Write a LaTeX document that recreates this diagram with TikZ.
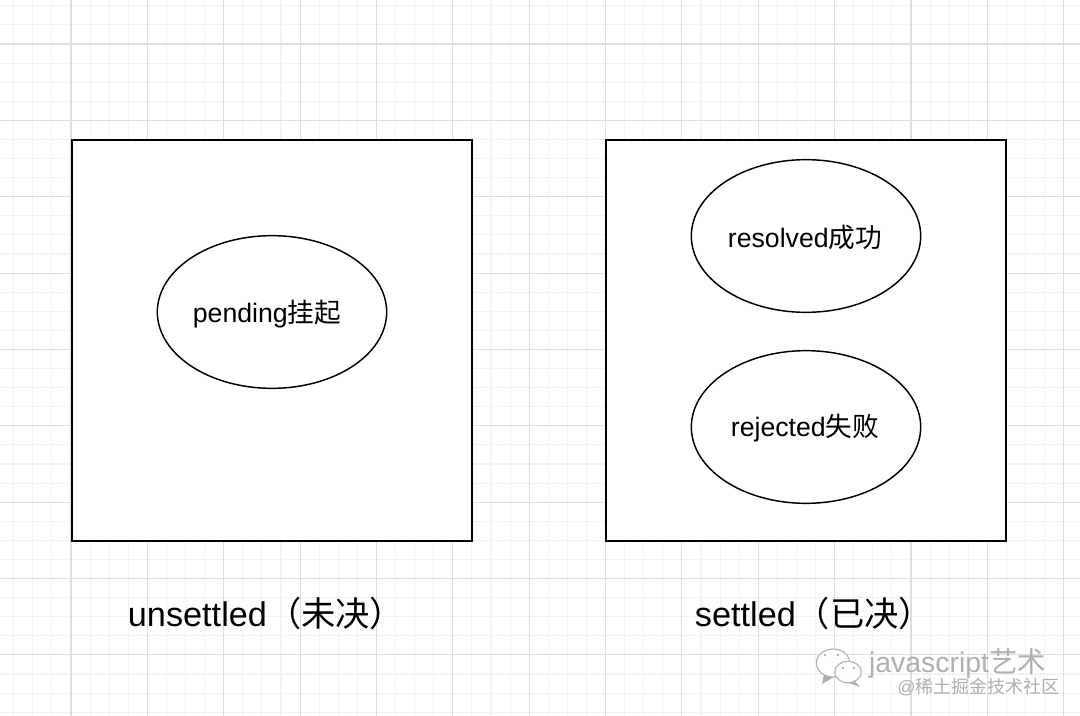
\documentclass[tikz,border=0pt]{standalone}
\usepackage{fontspec}
\setmainfont{Liberation Sans}
\newfontfamily\cjk{Noto Sans CJK SC}
\usetikzlibrary{shapes.geometric,positioning}
\definecolor{GridMajor}{RGB}{222,222,222}
\definecolor{GridMinor}{RGB}{243,243,243}
\definecolor{MarkGray}{RGB}{175,175,175}
\tikzset{
  statebox/.style={draw=black,line width=1.5pt,minimum width=300pt,minimum height=300pt,inner sep=0pt},
  stateoval/.style={ellipse,draw=black,line width=1.1pt,minimum width=172pt,minimum height=114.5pt,inner sep=0pt},
  ovaltext/.style={font=\fontsize{20}{24}\selectfont,inner sep=0pt},
  caption/.style={font=\fontsize{25.7}{30}\selectfont,inner sep=0pt},
  bubble/.style={ellipse,draw=MarkGray,fill=white,line width=0.8pt,inner sep=0pt},
  eye/.style={circle,fill=MarkGray,minimum size=2.2pt,inner sep=0pt}
}
\begin{document}
\begin{tikzpicture}[x=0.75pt,y=-0.75pt]
  \useasboundingbox (0,0) rectangle (1080,716);
  % grid
  \foreach \k in {-3,...,53} {
    \draw[GridMinor,line width=0.8pt] ({71+\k*19.09},0)--({71+\k*19.09},716);
  }
  \foreach \k in {-2,...,36} {
    \draw[GridMinor,line width=0.8pt] (0,{44+\k*19.09})--(1080,{44+\k*19.09});
  }
  \foreach \k in {0,...,13} {
    \draw[GridMajor,line width=0.8pt] ({71+\k*76.36},0)--({71+\k*76.36},716);
  }
  \foreach \k in {0,...,8} {
    \draw[GridMajor,line width=0.8pt] (0,{44+\k*76.36})--(1080,{44+\k*76.36});
  }
  % boxes
  \node[statebox,fill=white] (unsettled) at (271.5,340.5) {};
  \node[statebox,fill=white] (settled) at (806,340.5) {};
  \node[stateoval] (pending) at (272,312) {};
  \node[stateoval] (resolved) at (806,236) {};
  \node[stateoval] (rejected) at (806,427) {};
  \node[ovaltext] (pendingtext) at (267,314) {pending{\cjk 挂起}};
  \node[ovaltext] (resolvedtext) at (805,237) {resolved{\cjk 成功}};
  \node[ovaltext] (rejectedtext) at (805,428) {rejected{\cjk 失败}};
  \node[caption] (unsettledtext) at (266,613) {unsettled{\cjk （未决）}};
  \node[caption] (settledtext) at (814,613) {settled{\cjk （已决）}};
  % watermark
  \fill[MarkGray] (824,674)--(822,684)--(834,677)--cycle;
  \node[bubble,minimum width=25pt,minimum height=21pt] (bubbleA) at (833,663) {};
  \fill[MarkGray] (854,680)--(860,687)--(846,682)--cycle;
  \node[bubble,minimum width=20pt,minimum height=16pt] (bubbleB) at (848,672) {};
  \node[eye] (eyeA) at (825,655) {};
  \node[eye] (eyeB) at (838,655) {};
  \node[eye] (eyeC) at (843,668) {};
  \node[eye] (eyeD) at (854,668) {};
  \node[MarkGray,font=\fontsize{21.3}{24}\selectfont,inner sep=0pt] (marktext) at (957.5,664) {javascript{\cjk 艺术}};
  \node[MarkGray,font=\fontsize{13.5}{16}\selectfont,inner sep=0pt] (marksite) at (978.5,687) {@{\cjk 稀土掘金技术社区}};
\end{tikzpicture}
\end{document}
